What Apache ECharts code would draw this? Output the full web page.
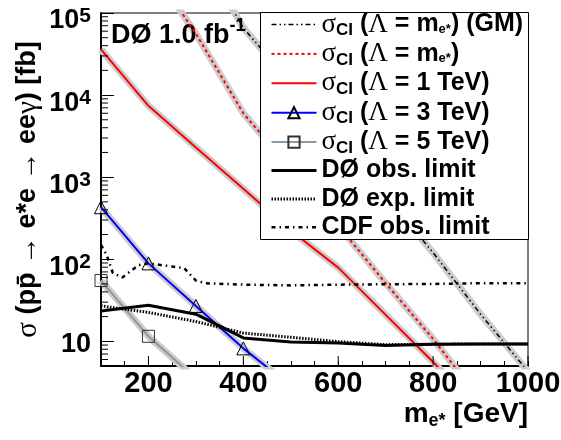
<!DOCTYPE html>
<html><head><meta charset="utf-8">
<script src="https://cdn.jsdelivr.net/npm/echarts@6/dist/echarts.min.js"></script>
<style>html,body{margin:0;padding:0;background:#fff}#c{width:561px;height:440px}</style>
</head><body><div id="c"></div>
<script>
// ---- data ----
const masses = [100, 200, 300, 400, 500, 600, 700, 800, 900, 1000];
const sigmaGM = [6.3e7, 6.3e6, 6.6e5, 6.6e4, 1.38e4, 2880, 603, 120, 21.4, 4.3];
const sigmaMe = [4.0e6, 4.0e5, 5.6e4, 6.0e3, 1260, 257, 51, 10.7, 1.9, 0.35];
const sigma1TeV = [3.6e4, 7.4e3, 2.3e3, 720, 224, 79, 21, 5.6, 1.4, 0.32];
const sigma3TeV = [430, 89, 27, 8.2, 2.85];
const sigma5TeV = [55, 11.5, 3.5];
const d0Obs = [23.4, 27.5, 21.4, 11.0, 9.8, 9.5, 8.9, 9.2, 9.3, 9.3];
const d0Exp = [27.0, 22.5, 17.4, 12.6, 11.2, 9.9, 9.1, 9.2, 9.3, 9.3];
const cdfMass = [100, 112, 125, 145, 160, 180, 200, 275, 300, 320, 400, 500, 600, 700, 800, 900, 1000];
const cdfObs = [150, 112, 68, 60, 70, 85, 89, 78, 55, 51, 49, 48, 49, 49.5, 50, 51, 51];
const yMinorTicks = [6, 7, 8, 9, 20, 30, 40, 50, 60, 70, 80, 90, 200, 300, 400, 500, 600, 700, 800, 900,
  2000, 3000, 4000, 5000, 6000, 7000, 8000, 9000, 20000, 30000, 40000, 50000, 60000, 70000, 80000, 90000];
const xMajorTicks = [200, 400, 600, 800, 1000];
const seriesNames = ['sGM', 'sMe', 's1', 's3', 's5', 'obs', 'exp', 'cdf'];

const SANS = "'Liberation Sans', Arial, Helvetica, sans-serif";
const SERIF = "'Liberation Serif', 'DejaVu Serif', serif";

const pts = (xs, ys) => ys.map((v, i) => [xs[i], v]);

const legendLabels = {
  sGM: '{g|σ}{sub|CI}{t| (}{g|Λ}{t| = m}{sub2|e*}{t|) (GM)}',
  sMe: '{g|σ}{sub|CI}{t| (}{g|Λ}{t| = m}{sub2|e*}{t|)}',
  s1: '{g|σ}{sub|CI}{t| (}{g|Λ}{t| = 1 TeV)}',
  s3: '{g|σ}{sub|CI}{t| (}{g|Λ}{t| = 3 TeV)}',
  s5: '{g|σ}{sub|CI}{t| (}{g|Λ}{t| = 5 TeV)}',
  obs: '{t|DØ obs. limit}{sub| }',
  exp: '{t|DØ exp. limit}{sub| }',
  cdf: '{t|CDF obs. limit}{sub| }'
};

const band = (data) => ({
  type: 'line', data, symbol: 'none', silent: true, z: 1,
  lineStyle: {color: '#cccccc', width: 7}
});
const noMark = {symbol: 'circle', showSymbol: false, itemStyle: {color: 'rgba(0,0,0,0)', borderWidth: 0}};

const option = {
  animation: false,
  grid: {left: 101, right: 33, top: 13, bottom: 74, show: true, borderColor: '#000', borderWidth: 1,
         backgroundColor: 'rgba(0,0,0,0)', outerBoundsMode: 'none'},
  xAxis: {
    type: 'value', min: 100, max: 1000, interval: 50,
    axisLine: {show: true, lineStyle: {color: '#000', width: 2}},
    axisTick: {show: true, inside: true, length: 5, lineStyle: {color: '#000', width: 1}},
    splitLine: {show: false},
    axisLabel: {
      margin: 3, color: '#000', fontFamily: SANS, fontWeight: 'bold', fontSize: 29,
      formatter: v => (v % 200 === 0 ? String(v) : '')
    },
    name: '{m|m}{s|e*}{m| [GeV]}', nameLocation: 'end', nameGap: 0, nameMoveOverlap: false,
    nameTextStyle: {
      align: 'right', verticalAlign: 'top', padding: [34, 0, 0, 0],
      rich: {
        m: {fontFamily: SANS, fontWeight: 'bold', fontSize: 28, lineHeight: 28, color: '#000'},
        s: {fontFamily: SANS, fontWeight: 'bold', fontSize: 18, lineHeight: 28, padding: [14, 0, 0, 0], color: '#000'}
      }
    }
  },
  yAxis: {
    type: 'log', logBase: 10, min: 5, max: 1e5,
    axisLine: {show: true, lineStyle: {color: '#000', width: 2}},
    axisTick: {show: true, inside: true, length: 13, lineStyle: {color: '#000', width: 1}},
    minorTick: {show: false},
    splitLine: {show: false},
    axisLabel: {
      margin: 10, color: '#000',
      formatter: v => {
        const l = Math.log10(v), e = Math.round(l);
        if (Math.abs(l - e) > 1e-6) return '';
        if (e === 1) return '{b1|10}';
        return '{b|10}{sup|' + e + '}';
      },
      rich: {
        b: {fontFamily: SANS, fontWeight: 'bold', fontSize: 27, lineHeight: 43, verticalAlign: 'bottom', color: '#000'},
        b1: {fontFamily: SANS, fontWeight: 'bold', fontSize: 27, color: '#000', padding: [6, 0, 0, 0]},
        sup: {fontFamily: SANS, fontWeight: 'bold', fontSize: 21, lineHeight: 43, verticalAlign: 'top', color: '#000', padding: [14, 0, 8, 0]}
      }
    },
    name: '{g|σ}{t| (pp\u0304 }{g|→}{t| e*e }{g|→}{t| ee}{g|γ}{t|) [fb]}',
    nameLocation: 'middle', nameRotate: 90, nameGap: 58, nameMoveOverlap: false,
    nameTextStyle: {
      rich: {
        t: {fontFamily: SANS, fontWeight: 'bold', fontSize: 27, lineHeight: 30, color: '#000'},
        g: {fontFamily: SERIF, fontSize: 29, lineHeight: 30, color: '#000'}
      }
    }
  },
  legend: {
    orient: 'vertical', left: 260, top: 11, padding: [0, 4, 0, 10],
    itemWidth: 45, itemHeight: 14, itemGap: 1.4,
    selectedMode: false, z: 10,
    data: seriesNames,
    formatter: n => legendLabels[n],
    lineStyle: {width: 'inherit'},
    textStyle: {
      color: '#000',
      rich: {
        t: {fontFamily: SANS, fontWeight: 'bold', fontSize: 25, color: '#000'},
        g: {fontFamily: SERIF, fontSize: 27, color: '#000'},
        sub: {fontFamily: SANS, fontWeight: 'bold', fontSize: 17, padding: [12, 0, 0, 0], color: '#000'},
        sub2: {fontFamily: SANS, fontWeight: 'bold', fontSize: 13, padding: [10, 0, 0, 0], color: '#000'}
      }
    }
  },
  graphic: [
    {
      type: 'rect', z: 8, silent: true,
      shape: {x: 260.5, y: 12.5, width: 268, height: 227},
      style: {fill: '#fff', stroke: '#000', lineWidth: 1}
    },
    {
      type: 'text', x: 111, y: 36, z: 2, silent: true,
      style: {
        text: '{a|DØ 1.0 fb}{s|-1}', align: 'left', verticalAlign: 'middle',
        rich: {
          a: {fontFamily: SANS, fontWeight: 'bold', fontSize: 27, lineHeight: 30, fill: '#000', color: '#000'},
          s: {fontFamily: SANS, fontWeight: 'bold', fontSize: 18, lineHeight: 30, padding: [0, 0, 20, 0], fill: '#000', color: '#000'}
        }
      }
    }
  ],
  series: [
    band(pts(masses, sigmaGM)),
    band(pts(masses, sigmaMe)),
    band(pts(masses, sigma1TeV)),
    band(pts(masses, sigma3TeV)),
    band(pts(masses, sigma5TeV)),
    Object.assign({name: 'sGM', type: 'line', data: pts(masses, sigmaGM), z: 3,
      lineStyle: {color: '#000', width: 1.5, type: [5, 3, 1.5, 3, 1.5, 3]}}, noMark),
    Object.assign({name: 'sMe', type: 'line', data: pts(masses, sigmaMe), z: 3,
      lineStyle: {color: '#ff0000', width: 2, type: [3, 3]}}, noMark),
    Object.assign({name: 's1', type: 'line', data: pts(masses, sigma1TeV), z: 3,
      lineStyle: {color: '#ff0000', width: 2}}, noMark),
    {name: 's3', type: 'line', data: pts(masses, sigma3TeV), z: 3,
      symbol: 'triangle', symbolSize: 13, showSymbol: true,
      itemStyle: {color: 'rgba(0,0,0,0)', borderColor: '#000', borderWidth: 1},
      lineStyle: {color: '#0000ff', width: 2}},
    {name: 's5', type: 'line', data: pts(masses, sigma5TeV), z: 3,
      symbol: 'rect', symbolSize: 12, showSymbol: true,
      itemStyle: {color: 'rgba(0,0,0,0)', borderColor: '#333', borderWidth: 1},
      lineStyle: {color: '#8a99a6', width: 2}},
    Object.assign({name: 'obs', type: 'line', data: pts(masses, d0Obs), z: 4,
      lineStyle: {color: '#000', width: 3}}, noMark),
    Object.assign({name: 'exp', type: 'line', data: pts(masses, d0Exp), z: 4,
      lineStyle: {color: '#000', width: 3, type: [1.5, 1.5]}}, noMark),
    Object.assign({name: 'cdf', type: 'line', data: pts(cdfMass, cdfObs), z: 4,
      lineStyle: {color: '#000', width: 2.5, type: [4, 4, 1.5, 4]}}, noMark),
    {
      type: 'custom', silent: true, clip: false, z: 6,
      data: yMinorTicks.map(v => [100, v]), encode: {x: 0, y: 1},
      renderItem: (params, api) => {
        const p = api.coord([api.value(0), api.value(1)]);
        return {type: 'line', shape: {x1: p[0], y1: p[1], x2: p[0] + 7, y2: p[1]},
                style: {stroke: '#000', lineWidth: 1}};
      }
    },
    {
      type: 'custom', silent: true, clip: false, z: 6,
      data: xMajorTicks.map(m => [m, 5]), encode: {x: 0, y: 1},
      renderItem: (params, api) => {
        const p = api.coord([api.value(0), api.value(1)]);
        return {type: 'line', shape: {x1: p[0], y1: p[1], x2: p[0], y2: p[1] - 10},
                style: {stroke: '#000', lineWidth: 1}};
      }
    }
  ]
};
const chart = echarts.init(document.getElementById('c'));
chart.setOption(option);
</script>
</body></html>
